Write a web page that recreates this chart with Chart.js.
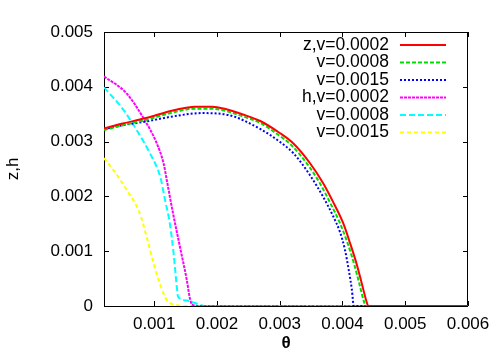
<!DOCTYPE html>
<html>
<head>
<meta charset="utf-8">
<script src="https://cdn.jsdelivr.net/npm/chart.js@4.4.1/dist/chart.umd.min.js"></script>
<style>
  html, body { margin: 0; padding: 0; background: #fff; }
  #wrap { width: 502px; height: 352px; }
</style>
</head>
<body>
<div id="wrap"><canvas id="thetaChart" width="502" height="352"></canvas></div>
<script>
// theta values and curves
const thetaZ1 = [0.0002, 0.0005, 0.00085, 0.00133, 0.00165, 0.00192, 0.00215, 0.0024, 0.00269, 0.00300, 0.00321, 0.00348, 0.00369, 0.00385, 0.00401, 0.00412, 0.00423, 0.00431, 0.00439, 0.00441, 0.0060];
const zV1     = [0.00324, 0.00333, 0.003425, 0.003577, 0.003637, 0.003637, 0.00359, 0.00350, 0.003376, 0.003157, 0.002974, 0.00261, 0.002245, 0.00190, 0.001515, 0.00115, 0.00075, 0.00040, 0.000055, 0, 0];

const thetaZ2 = [0.0002, 0.0005, 0.00085, 0.00133, 0.00165, 0.00192, 0.00215, 0.0024, 0.00269, 0.00298, 0.00318, 0.00344, 0.00364, 0.0038, 0.00396, 0.00408, 0.00419, 0.00427, 0.00435, 0.00437, 0.0060];
const zV2     = [0.00321, 0.00330, 0.00339, 0.00354, 0.00360, 0.00360, 0.003555, 0.003465, 0.00334, 0.00312, 0.00294, 0.00259, 0.00224, 0.00189, 0.00151, 0.00115, 0.00075, 0.00040, 0.00005, 0, 0];

const thetaZ3 = [0.0002, 0.0005, 0.00085, 0.00130, 0.00175, 0.00218, 0.00269, 0.00300, 0.00322, 0.00348, 0.00369, 0.00385, 0.00396, 0.00404, 0.0041, 0.00415, 0.00418, 0.0060];
const zV3     = [0.003225, 0.00330, 0.003363, 0.00346, 0.00352, 0.003485, 0.00323, 0.002998, 0.002786, 0.00239, 0.001995, 0.001642, 0.00135, 0.001022, 0.000657, 0.000292, 0, 0];

const thetaH1 = [0.0002, 0.00056, 0.00083, 0.00104, 0.00115, 0.0012, 0.0013, 0.00141, 0.00152, 0.00157, 0.0016, 0.0017, 0.0060];
const hV1     = [0.00419, 0.00388, 0.003425, 0.00297, 0.00260, 0.00230, 0.00169, 0.00108, 0.00047, 0.00013, 0.00003, 0, 0];

const thetaH2 = [0.0002, 0.00051, 0.00072, 0.00093, 0.0011, 0.00117, 0.00125, 0.00131, 0.00136, 0.00138, 0.00152, 0.00173, 0.0018, 0.0060];
const hV2     = [0.00399, 0.00358, 0.00321, 0.00279, 0.00234, 0.00195, 0.00150, 0.00095, 0.00035, 0.00017, 0.00010, 0.00002, 0, 0];

const thetaH3 = [0.0002, 0.00035, 0.00056, 0.00077, 0.00088, 0.00099, 0.00109, 0.0012, 0.00136, 0.0015, 0.0060];
const hV3     = [0.00270, 0.00248, 0.00212, 0.00169, 0.00126, 0.00078, 0.00041, 0.00011, 0.00002, 0, 0];

const seriesLabels = ['z,v=0.0002', 'v=0.0008', 'v=0.0015', 'h,v=0.0002', 'v=0.0008', 'v=0.0015'];
const xTickValues = [0.001, 0.002, 0.003, 0.004, 0.005, 0.006];
const yTickValues = [0, 0.001, 0.002, 0.003, 0.004, 0.005];

const FONT = '"Liberation Sans", Arial, sans-serif';

function pts(xs, ys) {
  return xs.map((x, i) => ({ x: x, y: ys[i] }));
}

const styles = [
  { color: '#ff0000', dash: [] },
  { color: '#00dd00', dash: [4, 2] },
  { color: '#0000ff', dash: [2, 2] },
  { color: '#ff00ff', dash: [3, 1] },
  { color: '#00ffff', dash: [6, 3] },
  { color: '#ffff00', dash: [4, 3] }
];

const rawSeries = [[thetaZ1, zV1], [thetaZ2, zV2], [thetaZ3, zV3], [thetaH1, hV1], [thetaH2, hV2], [thetaH3, hV3]];

const datasets = rawSeries.map((s, i) => ({
  label: seriesLabels[i],
  data: pts(s[0], s[1]),
  borderColor: styles[i].color,
  backgroundColor: styles[i].color,
  borderDash: styles[i].dash,
  borderWidth: 2,
  pointRadius: 0,
  fill: false,
  cubicInterpolationMode: 'monotone'
}));

// gnuplot-like frame with inward ticks on all four sides
const frameTicks = {
  id: 'frameTicks',
  beforeDatasetsDraw(chart) {
    const { ctx, chartArea: a, scales } = chart;
    ctx.save();
    ctx.strokeStyle = '#000';
    ctx.lineWidth = 1;
    ctx.strokeRect(a.left + 0.5, a.top + 0.5, a.right - a.left - 1, a.bottom - a.top);
    ctx.beginPath();
    xTickValues.forEach(v => {
      const px = Math.round(scales.x.getPixelForValue(v)) + 0.5;
      ctx.moveTo(px, a.bottom); ctx.lineTo(px, a.bottom - 5);
      ctx.moveTo(px, a.top); ctx.lineTo(px, a.top + 5);
    });
    yTickValues.forEach(v => {
      const py = Math.round(scales.y.getPixelForValue(v)) + 0.5;
      ctx.moveTo(a.left, py); ctx.lineTo(a.left + 5, py);
      ctx.moveTo(a.right, py); ctx.lineTo(a.right - 5, py);
    });
    ctx.stroke();
    ctx.restore();
  }
};

// key in the top-right corner, text right aligned before the sample line
const keyBox = {
  id: 'keyBox',
  afterDraw(chart) {
    const ctx = chart.ctx;
    ctx.save();
    ctx.font = '17.5px ' + FONT;
    ctx.textAlign = 'right';
    ctx.textBaseline = 'middle';
    chart.data.datasets.forEach((d, i) => {
      const y = 45 + i * 17.5;
      ctx.fillStyle = '#000';
      ctx.fillText(d.label, 389, y);
      ctx.strokeStyle = d.borderColor;
      ctx.lineWidth = 2;
      ctx.setLineDash(d.borderDash);
      ctx.beginPath();
      ctx.moveTo(400, y);
      ctx.lineTo(446, y);
      ctx.stroke();
    });
    ctx.restore();
  }
};

new Chart(document.getElementById('thetaChart'), {
  type: 'line',
  data: { datasets: datasets },
  options: {
    responsive: false,
    animation: false,
    layout: { padding: { top: 32, right: 34, left: 0, bottom: 0 } },
    plugins: { legend: { display: false }, tooltip: { enabled: false } },
    scales: {
      x: {
        type: 'linear',
        min: 0.0002,
        max: 0.006,
        afterBuildTicks: s => { s.ticks = xTickValues.map(v => ({ value: v })); },
        afterFit: s => { s.height = 46; },
        grid: { display: false, drawTicks: false },
        border: { display: false },
        ticks: {
          padding: 8,
          color: '#000',
          font: { family: FONT, size: 17 },
          maxRotation: 0,
          callback: v => v.toFixed(3)
        },
        title: {
          display: true,
          text: 'θ',
          color: '#000',
          font: { family: FONT, size: 17, weight: 'bold', lineHeight: 1 },
          padding: { top: 0, bottom: 0 }
        }
      },
      y: {
        min: 0,
        max: 0.005,
        afterBuildTicks: s => { s.ticks = yTickValues.map(v => ({ value: v })); },
        afterFit: s => { s.width = 104; },
        grid: { display: false, drawTicks: false },
        border: { display: false },
        ticks: {
          padding: 11,
          color: '#000',
          font: { family: FONT, size: 17 },
          callback: v => (v === 0 ? '0' : v.toFixed(3))
        },
        title: {
          display: true,
          text: 'z,h',
          color: '#000',
          font: { family: FONT, size: 17 },
          padding: { top: 3, bottom: 0 }
        }
      }
    }
  },
  plugins: [frameTicks, keyBox]
});
</script>
</body>
</html>
